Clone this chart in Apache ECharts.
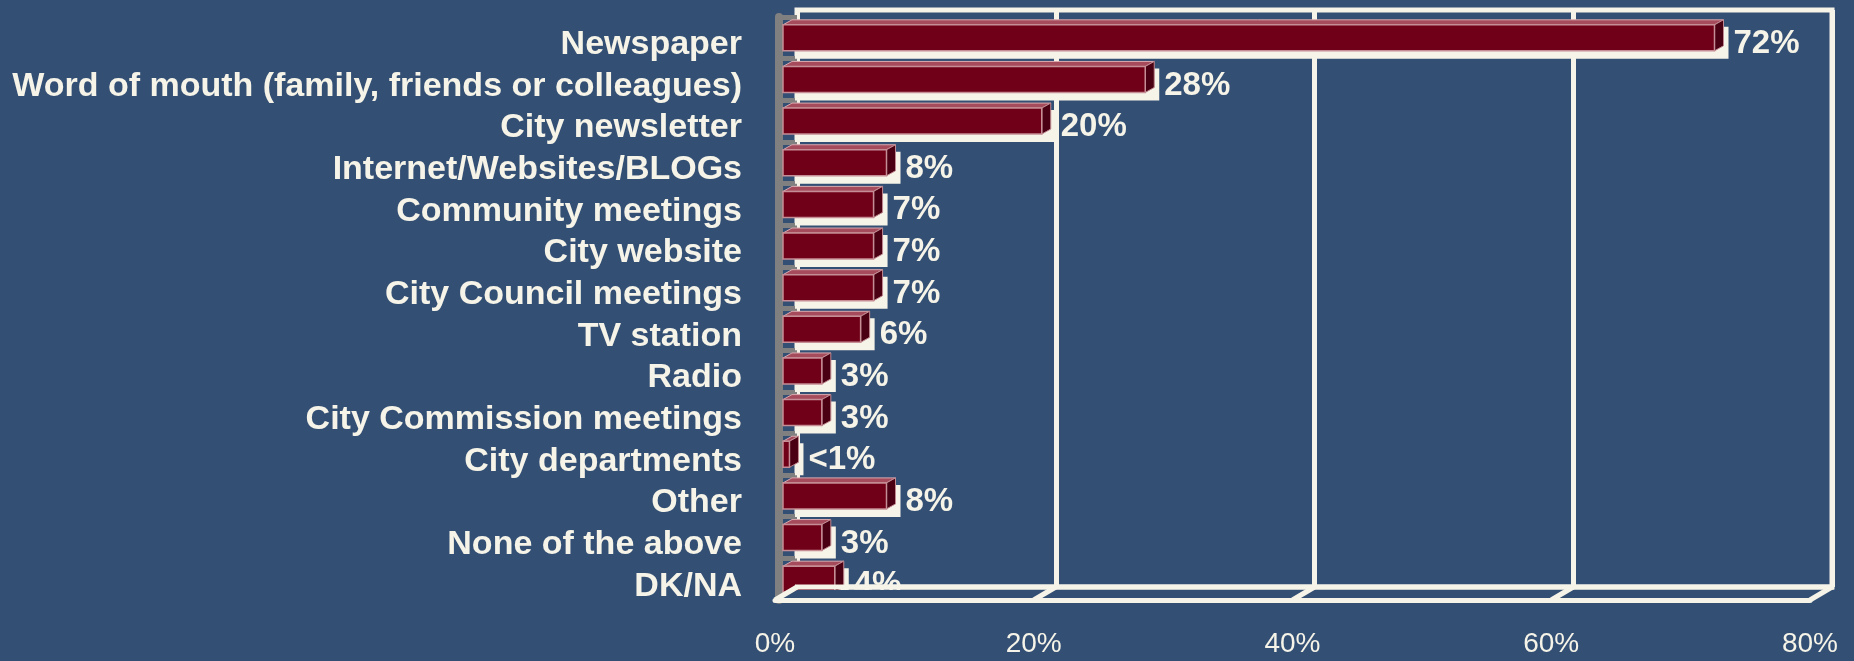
<!DOCTYPE html>
<html>
<head>
<meta charset="utf-8">
<script src="https://cdn.jsdelivr.net/npm/echarts@6/dist/echarts.min.js"></script>
<style>
  html, body { margin: 0; padding: 0; background: #344f74; }
  #chart { width: 1854px; height: 661px; }
</style>
</head>
<body>
<div id="chart"></div>
<script>
var categories = [
  "Newspaper",
  "Word of mouth (family, friends or colleagues)",
  "City newsletter",
  "Internet/Websites/BLOGs",
  "Community meetings",
  "City website",
  "City Council meetings",
  "TV station",
  "Radio",
  "City Commission meetings",
  "City departments",
  "Other",
  "None of the above",
  "DK/NA"
];
var values = [72, 28, 20, 8, 7, 7, 7, 6, 3, 3, 0.5, 8, 3, 4];
var valueLabels = ["72%", "28%", "20%", "8%", "7%", "7%", "7%", "6%", "3%", "3%", "<1%", "8%", "3%", "4%"];
var xTicks = [0, 20, 40, 60, 80];

var cream = "#f6f4e8";
var bg = "#344f74";

var chart = echarts.init(document.getElementById("chart"));

// 3d bar: front face, top face, side face and a cream shadow on the back wall
function renderBar(params, api) {
  var v = api.value(0);
  var i = api.value(1);
  var p0 = api.coord([0, i]);
  var p1 = api.coord([v, i]);
  var hh = 13, dx = 9, dy = 5;
  var x0 = p0[0] + 8, x1 = p1[0] + 8, c = p1[1];
  var sx = p0[0] + 20;
  var sw = Math.max(x1 + dx + 5 - sx, 6);
  return {
    type: "group",
    children: [
      { type: "rect", shape: { x: sx, y: c - hh - dy + 7, width: sw, height: 2 * hh + dy + 1 }, style: { fill: cream } },
      { type: "polygon", shape: { points: [[x0, c - hh], [x0 + dx, c - hh - dy], [x1 + dx, c - hh - dy], [x1, c - hh]] },
        style: { fill: "#a54b5c", stroke: "#d9a9ae", lineWidth: 1 } },
      { type: "polygon", shape: { points: [[x1, c - hh], [x1 + dx, c - hh - dy], [x1 + dx, c + hh - dy], [x1, c + hh]] },
        style: { fill: "#4a0012", stroke: "#c08890", lineWidth: 1 } },
      { type: "rect", shape: { x: x0, y: c - hh, width: Math.max(x1 - x0, 1), height: 2 * hh },
        style: { fill: "#700018", stroke: "#c58d95", lineWidth: 1.5 } },
      { type: "text", x: x1 + dx + 10, y: c + 6,
        style: { text: valueLabels[params.dataIndex], fill: cream, font: "bold 33px 'Liberation Sans', Arial, sans-serif",
          align: "left", verticalAlign: "middle" } }
    ]
  };
}

// floor of the 3d box and the slanted joins under each tick
function renderFloor(params, api) {
  var p = api.coord([api.value(0), 0]);
  var dx = -22, dy = 13;
  var kids = [];
  if (params.dataIndex === 0) {
    var a = api.coord([xTicks[0], 0]);
    var b = api.coord([xTicks[xTicks.length - 1], 0]);
    kids.push({ type: "polygon", shape: { points: [[a[0], a[1] + 3], [b[0], b[1] + 3], [b[0] + dx, b[1] + dy], [a[0] + dx, a[1] + dy]] },
      style: { fill: bg } });
    kids.push({ type: "line", shape: { x1: a[0] - 2, y1: a[1], x2: b[0] + 2, y2: b[1] }, style: { stroke: cream, lineWidth: 5 } });
  }
  kids.push({ type: "line", shape: { x1: p[0], y1: p[1], x2: p[0] + dx, y2: p[1] + dy }, style: { stroke: cream, lineWidth: 5 } });
  return { type: "group", children: kids };
}

var option = {
  backgroundColor: bg,
  animation: false,
  grid: [
    { left: 775, right: 44, top: 17, bottom: 61 },
    { left: 797, right: 22, top: 10, bottom: 74, show: true, borderColor: cream, borderWidth: 5 }
  ],
  xAxis: [
    {
      gridIndex: 0, type: "value", min: 0, max: 80, interval: 20, z: 6,
      axisLine: { show: true, lineStyle: { color: cream, width: 5 } },
      axisTick: { show: false },
      splitLine: { show: false },
      axisLabel: {
        margin: 30, color: cream, fontSize: 28,
        fontFamily: "'Liberation Sans', Arial, sans-serif",
        formatter: "{value}%"
      }
    },
    {
      gridIndex: 1, type: "value", min: 0, max: 80, interval: 20,
      axisLine: { show: false },
      axisTick: { show: false },
      axisLabel: { show: false },
      splitLine: { show: true, lineStyle: { color: cream, width: 5 } }
    }
  ],
  yAxis: [
    {
      gridIndex: 0, type: "category", data: categories, inverse: true, offset: -4,
      axisLine: { show: true, lineStyle: { color: "#808080", width: 8 } },
      axisTick: { show: true, inside: true, length: 18, lineStyle: { color: "#808080", width: 5 } },
      axisLabel: {
        interval: 0, margin: 37,
        formatter: function (v) { return "{c|" + v + "}"; },
        rich: {
          c: {
            color: cream, fontSize: 34, fontWeight: "bold",
            fontFamily: "'Liberation Sans', Arial, sans-serif",
            padding: [14, 0, 0, 0]
          }
        }
      }
    },
    { gridIndex: 1, type: "value", min: 0, max: 1, show: false }
  ],
  series: [
    {
      type: "custom", xAxisIndex: 0, yAxisIndex: 0, z: 3,
      renderItem: renderBar,
      data: values.map(function (v, i) { return [v, i]; })
    },
    {
      type: "custom", xAxisIndex: 1, yAxisIndex: 1, z: 5,
      renderItem: renderFloor,
      data: xTicks.map(function (v) { return [v, 0]; })
    }
  ]
};
chart.setOption(option);
</script>
</body>
</html>
